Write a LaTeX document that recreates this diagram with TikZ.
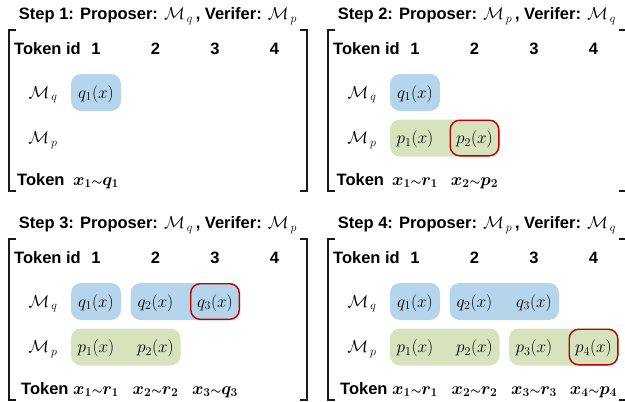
\documentclass[tikz,border=0pt]{standalone}
\usepackage{amsmath}
\usepackage{fontspec}
\newfontfamily\arial{Liberation Sans}
\definecolor{qblue}{HTML}{B4D5EB}
\definecolor{pgreen}{HTML}{D6E3BD}
\definecolor{redc}{HTML}{C00000}
\definecolor{brkc}{HTML}{1A1A1A}
\newcommand{\stepframe}[4]{%
  \node[titlef] (title) at (158,19.5) {Step #1: Proposer: $\mathcal{M}_{\,#2}$\,, Verifer: $\mathcal{M}_{\,#3}$};
  \draw[brk] (16,30) -- (9,30) -- (9,191) -- (16,191);
  \draw[brk] (300,30) -- (307,30) -- (307,191) -- (300,191);
  \node[hdr, anchor=base west] (tokid) at (14,54) {Token id};
  \node[hdr] (c1) at (96,54) {1};
  \node[hdr] (c2) at (155.5,54) {2};
  \node[hdr] (c3) at (215,54) {3};
  \node[hdr] (c4) at (274.5,54) {4};
  \node[mtxt] (mq) at (43,98) {$\mathcal{M}_{\,q}$};
  \node[mtxt] (mp) at (43,143.5) {$\mathcal{M}_{\,p}$};
  \node[hdr, anchor=base west] (tok) at (#4,185) {Token};
}
\begin{document}
\begin{tikzpicture}[x=1pt,y=-1pt,
  titlef/.style={inner sep=0, anchor=base, font=\arial\bfseries\fontsize{16.5}{20}\selectfont},
  hdr/.style={inner sep=0, anchor=base, font=\arial\bfseries\fontsize{16.5}{20}\selectfont},
  mtxt/.style={inner sep=0, anchor=base, font=\fontsize{16.8}{20}\selectfont},
  tokf/.style={inner sep=0, anchor=base, font=\boldmath\fontsize{16.8}{20}\selectfont},
  brk/.style={draw=brkc, line width=1.5pt},
  cellbox/.style={rounded corners=10pt, inner sep=0, minimum height=37pt},
  qbox/.style={cellbox, fill=qblue},
  pbox/.style={cellbox, fill=pgreen},
  redbox/.style={rounded corners=9.5pt, inner sep=0, draw=redc, line width=1.4pt,
    minimum height=35.6pt, minimum width=48.6pt}]
\useasboundingbox (0,0) rectangle (625,402);

% ---------- Step 1 ----------
\begin{scope}[name prefix=a-]
  \node[qbox, minimum width=50pt] (bq1) at (96,92.5) {};
  \stepframe{1}{q}{p}{17}
  \node[mtxt] (q1) at (96,98) {$q_1(x)$};
  \node[tokf] (t1) at (96,185) {$x_1{\scriptstyle\sim}q_1$};
\end{scope}

% ---------- Step 2 ----------
\begin{scope}[shift={(319,0)}, name prefix=b-]
  \node[qbox, minimum width=50pt] (bq1) at (96,92.5) {};
  \node[pbox, minimum width=109.5pt] (bp12) at (125.75,138) {};
  \node[redbox] (r2) at (155.5,138) {};
  \stepframe{2}{p}{q}{17.5}
  \node[mtxt] (q1) at (96,98) {$q_1(x)$};
  \node[mtxt] (p1) at (96,143.5) {$p_1(x)$};
  \node[mtxt] (p2) at (155.5,143.5) {$p_2(x)$};
  \node[tokf] (t1) at (96,185) {$x_1{\scriptstyle\sim}r_1$};
  \node[tokf] (t2) at (155.5,185) {$x_2{\scriptstyle\sim}p_2$};
\end{scope}

% ---------- Step 3 ----------
\begin{scope}[shift={(0,209)}, name prefix=c-]
  \node[qbox, minimum width=50pt] (bq1) at (96,92.5) {};
  \node[qbox, minimum width=109.5pt] (bq23) at (185.25,92.5) {};
  \node[redbox] (r3) at (215,92.5) {};
  \node[pbox, minimum width=109.5pt] (bp12) at (125.75,138) {};
  \stepframe{3}{q}{p}{21}
  \node[mtxt] (q1) at (96,98) {$q_1(x)$};
  \node[mtxt] (q2) at (155.5,98) {$q_2(x)$};
  \node[mtxt] (q3) at (215,98) {$q_3(x)$};
  \node[mtxt] (p1) at (96,143.5) {$p_1(x)$};
  \node[mtxt] (p2) at (155.5,143.5) {$p_2(x)$};
  \node[tokf] (t1) at (96,185) {$x_1{\scriptstyle\sim}r_1$};
  \node[tokf] (t2) at (155.5,185) {$x_2{\scriptstyle\sim}r_2$};
  \node[tokf] (t3) at (215,185) {$x_3{\scriptstyle\sim}q_3$};
\end{scope}

% ---------- Step 4 ----------
\begin{scope}[shift={(319,209)}, name prefix=d-]
  \node[qbox, minimum width=50pt] (bq1) at (96,92.5) {};
  \node[qbox, minimum width=109.5pt] (bq23) at (185.25,92.5) {};
  \node[pbox, minimum width=109.5pt] (bp12) at (125.75,138) {};
  \node[pbox, minimum width=109.5pt] (bp34) at (244.75,138) {};
  \node[redbox] (r4) at (274.5,138) {};
  \stepframe{4}{p}{q}{21}
  \node[mtxt] (q1) at (96,98) {$q_1(x)$};
  \node[mtxt] (q2) at (155.5,98) {$q_2(x)$};
  \node[mtxt] (q3) at (215,98) {$q_3(x)$};
  \node[mtxt] (p1) at (96,143.5) {$p_1(x)$};
  \node[mtxt] (p2) at (155.5,143.5) {$p_2(x)$};
  \node[mtxt] (p3) at (215,143.5) {$p_3(x)$};
  \node[mtxt] (p4) at (274.5,143.5) {$p_4(x)$};
  \node[tokf] (t1) at (96,185) {$x_1{\scriptstyle\sim}r_1$};
  \node[tokf] (t2) at (155.5,185) {$x_2{\scriptstyle\sim}r_2$};
  \node[tokf] (t3) at (215,185) {$x_3{\scriptstyle\sim}r_3$};
  \node[tokf] (t4) at (274.5,185) {$x_4{\scriptstyle\sim}p_4$};
\end{scope}
\end{tikzpicture}
\end{document}
